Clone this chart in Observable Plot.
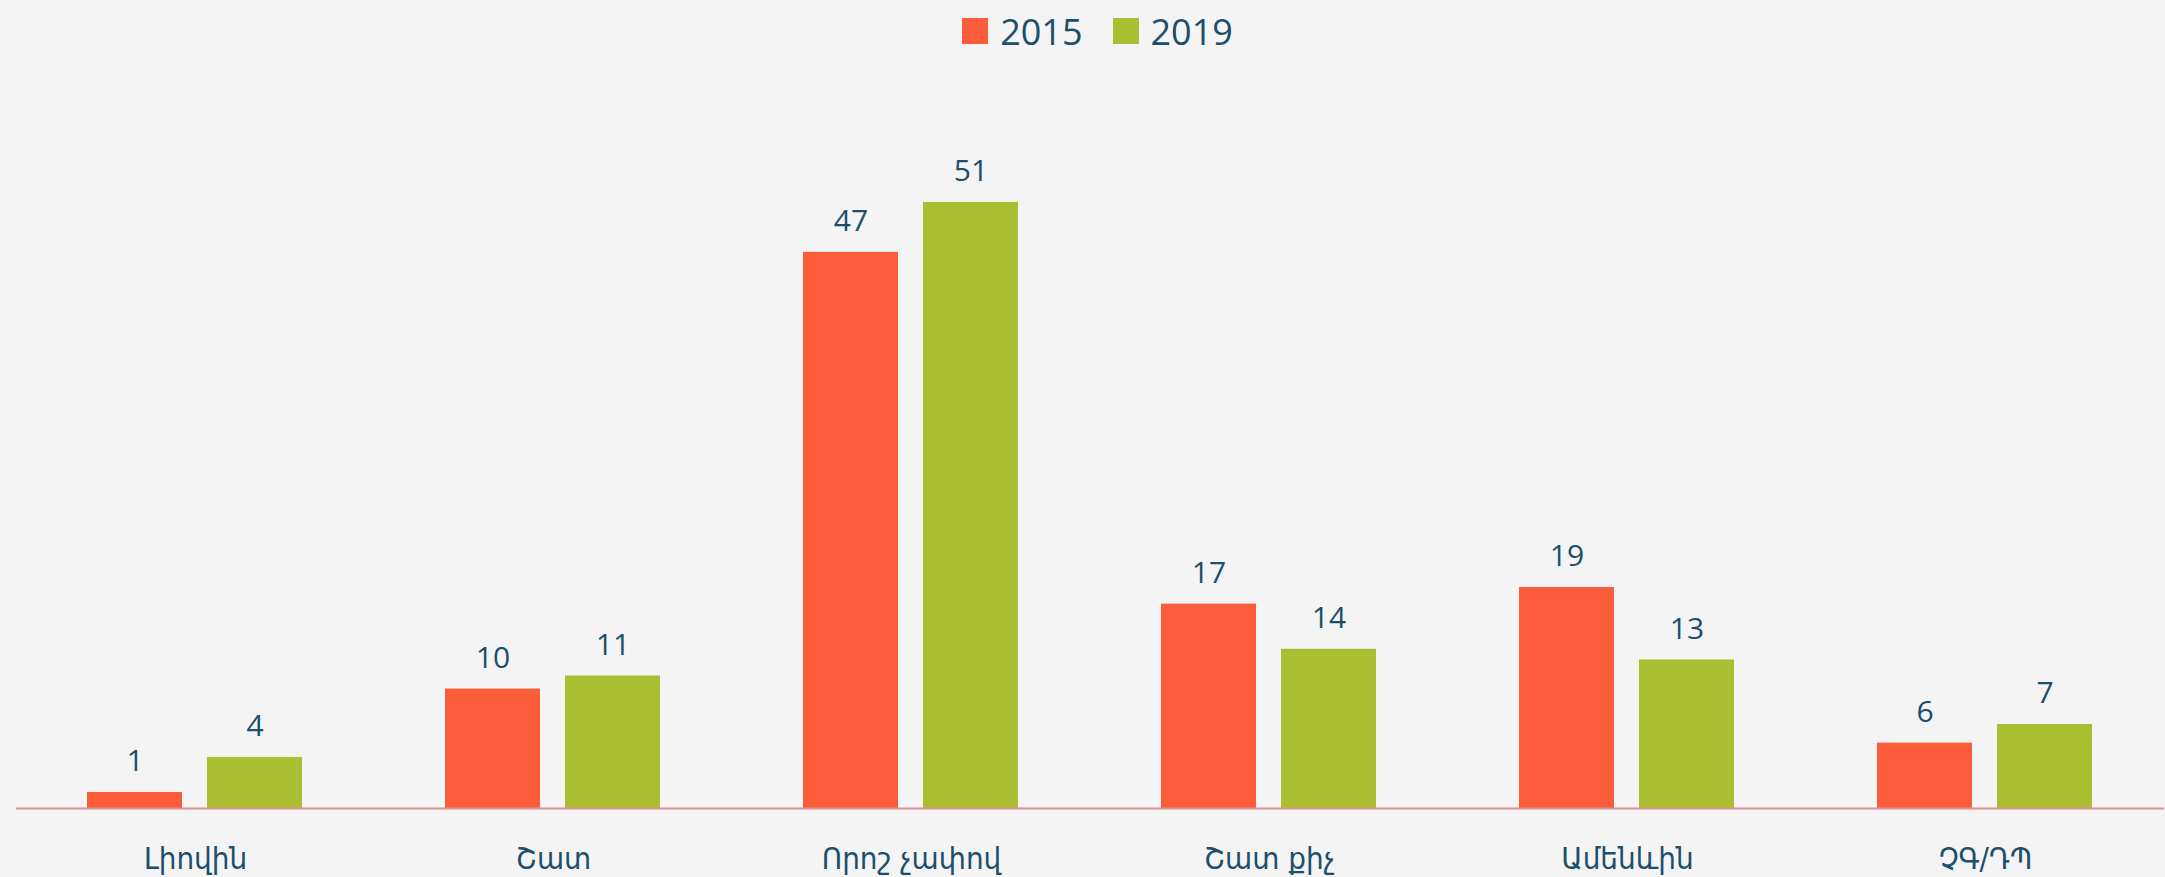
<!DOCTYPE html>
<html><head><meta charset="utf-8">
<script src="https://cdn.jsdelivr.net/npm/d3@7"></script>
<script src="https://cdn.jsdelivr.net/npm/@observablehq/plot@0.6"></script>
<style>
html,body{margin:0;padding:0;background:#f4f4f4;}
#legend{height:62px;display:flex;justify-content:center;align-items:center;font-family:"Open Sans",sans-serif;font-size:36px;color:#1b4f6d;padding-left:30px;}
.item{display:flex;align-items:center;margin:0 15px;}
.sw{width:26px;height:26px;margin-right:12px;}
</style></head><body>
<div id="legend"></div><div id="chart"></div>
<script>
const categories = ["Լիովին","Շատ","Որոշ չափով","Շատ քիչ","Ամենևին","ՉԳ/ԴՊ"];
const years = ["2015","2019"];
// bar heights
const values2015 = [1.35, 10.05, 46.8, 17.2, 18.6, 5.5];
const values2019 = [4.3, 11.15, 51, 13.4, 12.5, 7.07];
// data labels printed above the bars
const labels2015 = ["1","10","47","17","19","6"];
const labels2019 = ["4","11","51","14","13","7"];
const colors = ["#fb5c3a","#a9bf31"];
const textColor = "#1b4f6d";

const legend = document.getElementById("legend");
years.forEach((y,i)=>{
  const it = document.createElement("div"); it.className="item";
  const sw = document.createElement("div"); sw.className="sw"; sw.style.background=colors[i];
  const t = document.createElement("span"); t.textContent=y;
  it.appendChild(sw); it.appendChild(t); legend.appendChild(it);
});

const data = categories.flatMap((c,i)=>[
  {category:c, year:years[0], value:values2015[i], label:labels2015[i]},
  {category:c, year:years[1], value:values2019[i], label:labels2019[i]}
]);

const chart = Plot.plot({
  width: 2165, height: 815,
  marginLeft: 15, marginRight: 0, marginTop: 33, marginBottom: 69,
  style: {background: "transparent", color: textColor, fontFamily: "'Open Sans', sans-serif"},
  fx: {domain: categories, padding: 0, label: null},
  x: {domain: years, paddingInner: 0.207, paddingOuter: 0.594, axis: null},
  y: {domain: [0, 60], axis: null},
  color: {domain: years, range: colors},
  marks: [
    Plot.barY(data, {fx: "category", x: "year", y: "value", fill: "year"}),
    Plot.text(data, {fx: "category", x: "year", y: "value", text: "label", dy: -31, fontSize: 30, fill: textColor}),
    Plot.ruleY([0], {stroke: "#dc9292", strokeWidth: 2}),
    Plot.axisFx({anchor: "bottom", tickSize: 0, tickPadding: 38, fontSize: 31, label: null, fill: textColor, fontFamily: "'DejaVu Sans Condensed','DejaVu Sans', sans-serif"})
  ]
});
document.getElementById("chart").appendChild(chart);
</script>
</body></html>
